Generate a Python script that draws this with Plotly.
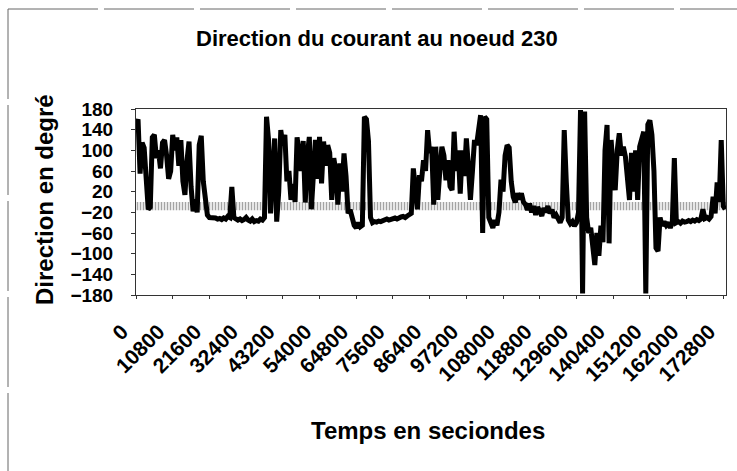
import plotly.graph_objects as go

# Sampling interval of the record (seconds)
STEP_S = 600

# Current direction at node 230 (degrees), one value per STEP_S
direction_deg = [
    150, 160, 55, 115, 105, 45, -14, -10, 125, 130,
    85, 100, 65, 115, 120, 90, 45, 60, 130, 100,
    125, 70, 120, 40, 14, 80, 117, 30, -18, 5,
    -20, 110, 128, 40, 4, -25, -30, -30, -32, -31,
    -33, -32, -34, -31, -33, -28, -30, 29, -30, -33,
    -35, -33, -36, -34, -30, -35, -37, -33, -38, -36,
    -37, -33, -35, -30, 165, 120, -22, 60, 123, -38,
    20, 139, 110, 130, 40, 60, 4, 35, 0, 125,
    100, 60, 118, -1, 90, 126, -14, 40, 120, 45,
    126, 36, 117, 70, 110, 95, 4, 85, 60, -5,
    75, 20, 94, 50, -22, -15, -35, -45, -50, -40,
    -48, -45, 165, 160, 118, -30, -40, -38, -39, -37,
    -38, -36, -35, -33, -35, -34, -33, -31, -33, -30,
    -29, -28, -30, -27, -24, -22, 65, 30, -14, 52,
    40, 81, 60, 139, 95, 107, -5, 107, 4, 60,
    107, 90, 42, 81, 30, 23, 136, 60, 100, 16,
    100, 50, 123, 70, 4, 60, 120, 110, 136, 168,
    -60, 165, 160, -30, -40, -50, -35, -45, -20, 43,
    20, 90, 110, 105, 40, 10, -1, 17, 5, 17,
    0, -5, -15, -3, -20, -8, -25, -10, -18, -27,
    -12, -20, -8, -22, -15, -30, -25, -35, -40, -30,
    139, 40, -35, -42, -38, -46, -40, -20, 178, -177,
    175, -30, -60, -50, -79, -122, -60, -104, -46, -78,
    100, 149, -80, 120, 60, 23, 100, 133, 90, 107,
    88, 30, 4, 95, 20, 100, 4, 107, 120, 136,
    -177, 150, 158, 130, 60, -89, -95, -30, -46, -38,
    -45, -40, -50, -40, 85, -40, -38, -41, -37, -39,
    -38, -36, -38, -35, -37, -34, -36, -33, -14, -32,
    -30, -33, -28, 10, -22, 38, 0, 120, -8, -14,
]
time_s = [i * STEP_S for i in range(len(direction_deg))]

# Axis ticks
x_tick_values = list(range(0, 172801, 10800))
x_tick_labels = [str(v) for v in x_tick_values]
y_tick_values = list(range(-180, 181, 40))

# Hatched reference band around zero
band_low, band_high = -16, 0
x_max = 173600

FONT = "Liberation Sans, Arial, sans-serif"

fig = go.Figure()

fig.add_trace(go.Scatter(
    x=[0, x_max, x_max, 0, 0],
    y=[band_high, band_high, band_low, band_low, band_high],
    mode="lines", fill="toself",
    fillcolor="rgba(0,0,0,0)",
    fillpattern=dict(shape="|", fgcolor="#5a5a5a", bgcolor="#eeeeee",
                     size=3, solidity=0.4),
    line=dict(width=0), hoverinfo="skip", showlegend=False,
))

fig.add_trace(go.Scatter(
    x=time_s, y=direction_deg, mode="lines",
    line=dict(color="black", width=5), showlegend=False,
))

W, H = 737, 471
L, R, T, B = 136, 11, 109, 176
pw, ph = W - L - R, H - T - B


def px(x):
    return (x - L) / pw


def py(y):
    return (H - B - y) / ph


fig.update_layout(
    width=W, height=H,
    margin=dict(l=L, r=R, t=T, b=B),
    paper_bgcolor="white", plot_bgcolor="white",
    font=dict(family=FONT, color="black"),
    xaxis=dict(
        range=[0, x_max], tickvals=x_tick_values, ticktext=x_tick_labels,
        tickangle=-45, tickfont=dict(size=21, family=FONT, weight="bold"),
        ticks="outside", ticklen=3, tickcolor="#333",
        ticklabelstandoff=12, ticklabelshift=-14,
        showgrid=False, zeroline=False,
        showline=True, linecolor="#333", linewidth=1, mirror=True,
    ),
    yaxis=dict(
        range=[-180, 180], tickvals=y_tick_values,
        tickfont=dict(size=19, family=FONT, weight="bold"),
        ticks="outside", ticklen=4, tickcolor="#333",
        ticklabelstandoff=14,
        showgrid=False, zeroline=False,
        showline=True, linecolor="#333", linewidth=1, mirror=True,
    ),
    annotations=[
        dict(text="Direction du courant au noeud 230", xref="paper", yref="paper",
             x=px(377), y=py(39), showarrow=False, xanchor="center", yanchor="middle",
             font=dict(size=22, family=FONT, weight="bold")),
        dict(text="Temps en seciondes", xref="paper", yref="paper",
             x=px(428), y=py(430), showarrow=False, xanchor="center", yanchor="middle",
             font=dict(size=24, family=FONT, weight="bold")),
        dict(text="Direction en degré", xref="paper", yref="paper",
             x=px(44), y=py(200), showarrow=False, xanchor="center", yanchor="middle",
             textangle=-90, font=dict(size=24, family=FONT, weight="bold")),
    ],
    shapes=[
        dict(type="line", xref="paper", yref="paper",
             x0=px(8), x1=px(737), y0=py(9), y1=py(9),
             line=dict(color="#666", width=1, dash="90px,6px")),
        dict(type="line", xref="paper", yref="paper",
             x0=px(8), x1=px(8), y0=py(9), y1=py(471),
             line=dict(color="#666", width=1, dash="90px,6px")),
    ],
)

fig.write_html("out.html")
